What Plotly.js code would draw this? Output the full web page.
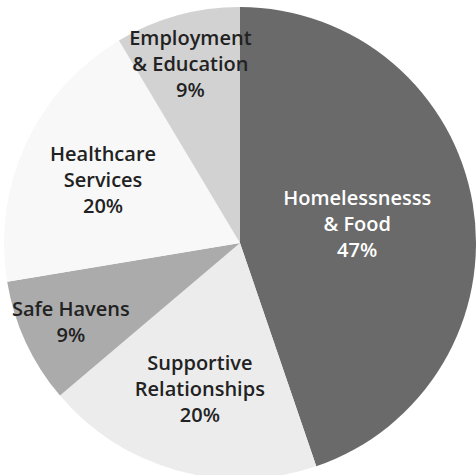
<!DOCTYPE html>
<html>
<head>
<meta charset="utf-8">
<script src="https://cdn.plot.ly/plotly-3.0.1.min.js"></script>
<style>
html,body{margin:0;padding:0;background:#fff;overflow:hidden;}
#chart{width:476px;height:486px;}
</style>
</head>
<body>
<div id="chart"></div>
<script>
const labels = ["Homelessnesss<br>& Food", "Supportive<br>Relationships", "Safe Havens", "Healthcare<br>Services", "Employment<br>& Education"];
const values = [47, 20, 9, 20, 9];
const colors = ["#6a6a6a", "#ececec", "#ababab", "#f8f8f8", "#d2d2d2"];
const textColors = ["#ffffff", "#222222", "#222222", "#222222", "#222222"];

const trace = {
  type: "pie",
  labels: labels,
  values: values,
  sort: false,
  direction: "clockwise",
  rotation: 0,
  marker: {colors: colors, line: {width: 0}},
  texttemplate: "%{label}<br>%{value}%",
  textposition: "inside",
  insidetextorientation: "horizontal",
  textfont: {family: "Open Sans, Noto Sans, sans-serif", size: 20, color: textColors, weight: 600},
  hoverinfo: "none",
  showlegend: false,
  domain: {x: [4/476, 1], y: [7/486, 1 - 7/486]}
};

Plotly.newPlot("chart", [trace], {
  width: 476, height: 486,
  margin: {l: 0, r: 0, t: 0, b: 0},
  paper_bgcolor: "#ffffff",
  showlegend: false,
  uniformtext: {minsize: 20, mode: "show"}
}, {displayModeBar: false, staticPlot: true});
</script>
</body>
</html>
